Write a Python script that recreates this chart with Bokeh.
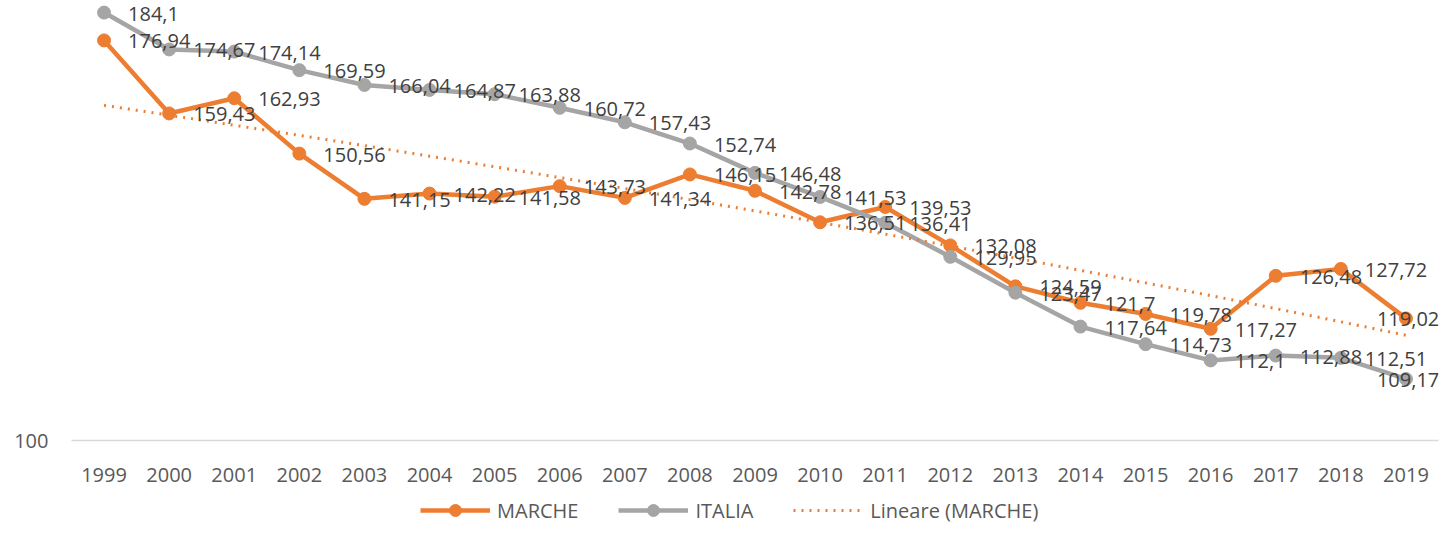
import numpy as np
from bokeh.plotting import figure
from bokeh.layouts import column
from bokeh.core.properties import value
from bokeh.models import (Range1d, FixedTicker, NumeralTickFormatter, ColumnDataSource,
                          LabelSet, Legend, LegendItem)
from bokeh.embed import file_html
from bokeh.resources import INLINE

# ---- data ----
years = ["1999", "2000", "2001", "2002", "2003", "2004", "2005", "2006", "2007", "2008",
         "2009", "2010", "2011", "2012", "2013", "2014", "2015", "2016", "2017", "2018", "2019"]
marche = [176.94, 159.43, 162.93, 150.56, 141.15, 142.22, 141.58, 143.73, 141.34, 146.15,
          142.78, 136.51, 139.53, 132.08, 124.59, 121.7, 119.78, 117.27, 126.48, 127.72, 119.02]
italia = [184.1, 174.67, 174.14, 169.59, 166.04, 164.87, 163.88, 160.72, 157.43, 152.74,
          146.48, 141.53, 136.41, 129.95, 123.47, 117.64, 114.73, 112.1, 112.88, 112.51, 109.17]
series_names = ["MARCHE", "ITALIA", "Lineare (MARCHE)"]

ORANGE = "#ED7D31"
GRAY = "#A5A5A5"
FONT = "Open Sans"
LABEL_COLOR = "#404040"
AXIS_TEXT = "#595959"

n = len(years)
idx = list(range(n))


def fmt(v):
    s = ("%.2f" % v).rstrip("0").rstrip(".")
    return s.replace(".", ",")


# labels sit right of each point; the last ones are pulled back inside the chart
label_dx = [24] * (n - 1) + [-29]

src_m = ColumnDataSource(dict(x=idx, y=marche, t=[fmt(v) for v in marche], dx=label_dx))
src_i = ColumnDataSource(dict(x=idx, y=italia, t=[fmt(v) for v in italia], dx=label_dx))

# linear trendline (least squares on MARCHE, as Excel does)
coef = np.polyfit(idx, marche, 1)
tx = np.linspace(idx[0], idx[-1], 161)
ty = np.polyval(coef, tx)
src_t = ColumnDataSource(dict(x=tx, y=ty))

W = 1439
p = figure(width=W, height=494, output_backend="svg", toolbar_location=None,
           y_axis_type="log",
           x_range=Range1d(-0.5, n - 0.5),
           y_range=Range1d(100, 187.3),
           min_border_left=71, min_border_right=1, min_border_top=0, min_border_bottom=54)
p.outline_line_color = None
p.xgrid.visible = False
p.ygrid.visible = False

LW = 4.5
MS = 13
lo = p.line("x", "y", source=src_m, line_color=ORANGE, line_width=LW, line_join="round")
so = p.scatter("x", "y", source=src_m, size=MS, fill_color=ORANGE, line_color=ORANGE)
lg = p.line("x", "y", source=src_i, line_color=GRAY, line_width=LW, line_join="round")
sg = p.scatter("x", "y", source=src_i, size=MS, fill_color=GRAY, line_color=GRAY)
lt = p.line("x", "y", source=src_t, line_color=ORANGE, line_width=3, line_dash="2 6")

for src in (src_m, src_i):
    p.add_layout(LabelSet(x="x", y="y", text="t", source=src, x_offset="dx", y_offset=-1,
                          text_align="left", text_baseline="middle",
                          text_font=value(FONT), text_font_size="20px", text_color=LABEL_COLOR))

# x axis
p.xaxis.ticker = FixedTicker(ticks=idx)
p.xaxis.major_label_overrides = {i: y for i, y in enumerate(years)}
p.xaxis.bounds = (-0.5, n - 0.5)
p.xaxis.major_tick_out = 0
p.xaxis.major_tick_in = 0
p.xaxis.minor_tick_out = 0
p.xaxis.minor_tick_in = 0
p.xaxis.axis_line_color = "#D9D9D9"
p.xaxis.axis_line_width = 1.5
p.xaxis.major_label_standoff = 27
p.xaxis.major_label_text_font = FONT
p.xaxis.major_label_text_font_size = "20px"
p.xaxis.major_label_text_color = AXIS_TEXT

# y axis (log)
p.yaxis.ticker = FixedTicker(ticks=[100])
p.yaxis.formatter = NumeralTickFormatter(format="0")
p.yaxis.axis_line_color = None
p.yaxis.major_tick_out = 0
p.yaxis.major_tick_in = 0
p.yaxis.minor_tick_out = 0
p.yaxis.minor_tick_in = 0
p.yaxis.major_label_standoff = 23
p.yaxis.major_label_text_font = FONT
p.yaxis.major_label_text_font_size = "20px"
p.yaxis.major_label_text_color = AXIS_TEXT

# legend strip below the chart (its ranges keep the series themselves out of view)
lf = figure(width=W, height=31, output_backend="svg", toolbar_location=None,
            x_axis_location=None, y_axis_location=None, min_border=0,
            x_range=Range1d(0, 1), y_range=Range1d(0, 1))
lf.outline_line_color = None
lf.grid.visible = False
k1 = lf.line("x", "y", source=src_m, line_color=ORANGE, line_width=LW)
k1m = lf.scatter("x", "y", source=src_m, size=MS, fill_color=ORANGE, line_color=ORANGE)
k2 = lf.line("x", "y", source=src_i, line_color=GRAY, line_width=LW)
k2m = lf.scatter("x", "y", source=src_i, size=MS, fill_color=GRAY, line_color=GRAY)
k3 = lf.line("x", "y", source=src_t, line_color=ORANGE, line_width=3, line_dash="2 6")

legend = Legend(items=[LegendItem(label=series_names[0], renderers=[k1, k1m]),
                       LegendItem(label=series_names[1], renderers=[k2, k2m]),
                       LegendItem(label=series_names[2], renderers=[k3])],
                orientation="horizontal", location=(349, 0),
                glyph_width=70, glyph_height=30, label_standoff=7, spacing=40,
                padding=0, margin=0, border_line_color=None, background_fill_alpha=0,
                label_text_font=FONT, label_text_font_size="20px", label_text_color=AXIS_TEXT)
lf.add_layout(legend)

layout = column(p, lf, spacing=0)
open("out.html", "w").write(file_html(layout, INLINE))
